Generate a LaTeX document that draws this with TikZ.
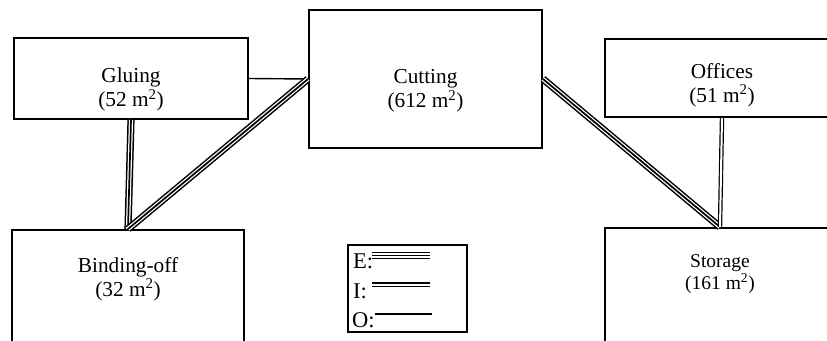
\documentclass[tikz,border=0pt]{standalone}
\usepackage{fontspec}
\setmainfont{Liberation Serif}
\usepackage{tikz}

\begin{document}
\begin{tikzpicture}[x=1pt, y=-1pt,
        room/.style={draw, line width=2, rectangle, inner sep=0},
        roomtext/.style={align=center, font=\fontsize{21.3}{24}\selectfont},
        key/.style={anchor=base west, inner sep=0, font=\fontsize{22.5}{26}\selectfont},
        ebond/.style={line width=1.7, preaction={draw, line width=7.2}, preaction={draw, white, line width=4.2}},
        ibond/.style={double distance=2, line width=1.2},
        obond/.style={line width=1.4}]
        \useasboundingbox (0,0) rectangle (827,340);
        \clip (0,0) rectangle (827,340);
        % rooms
        \node[room, minimum width=234, minimum height=81] (gluing) at (131,78.5) {};
        \node[room, minimum width=233, minimum height=138] (cutting) at (425.5,79) {};
        \node[room, minimum width=234, minimum height=78] (offices) at (722,78) {};
        \node[room, minimum width=232, minimum height=130] (binding) at (128,295) {};
        \node[room, minimum width=230, minimum height=130] (storage) at (720,293) {};
        \node[roomtext] (gluing-t) at (131,89.5) {Gluing\\(52 m\textsuperscript{2})};
        \node[roomtext] (cutting-t) at (425.5,91) {Cutting\\(612 m\textsuperscript{2})};
        \node[roomtext] (offices-t) at (722,85) {Offices\\(51 m\textsuperscript{2})};
        \node[roomtext] (binding-t) at (128,279) {Binding-off\\(32 m\textsuperscript{2})};
        \node[roomtext, font=\fontsize{19.5}{22}\selectfont] (storage-t) at (720,274.5) {Storage\\(161 m\textsuperscript{2})};
        % links
        \draw[obond] (gluing.east) -- (cutting.west);
        \draw[ebond] (gluing.south) -- (binding.north);
        \draw[ebond] (cutting.west) -- (binding.north);
        \draw[ebond] (cutting.east) -- (storage.north);
        \draw[ibond] (offices.south) -- (storage.north);
        % legend
        \node[room, minimum width=119, minimum height=87] (legend) at (407.5,288.5) {};
        \node[key] (e-key) at (353,268) {E:};
        \node[key] (i-key) at (353,298) {I:};
        \node[key] (o-key) at (352,327) {O:};
        \coordinate (e-a) at (372,255.5);
        \coordinate (e-b) at (430,255.5);
        \coordinate (i-a) at (372,284.5);
        \coordinate (i-b) at (430,284.5);
        \coordinate (o-a) at (375,314);
        \coordinate (o-b) at (432,314);
        \draw[ebond] (e-a) -- (e-b);
        \draw[ibond] (i-a) -- (i-b);
        \draw[obond] (o-a) -- (o-b);
\end{tikzpicture}
\end{document}
